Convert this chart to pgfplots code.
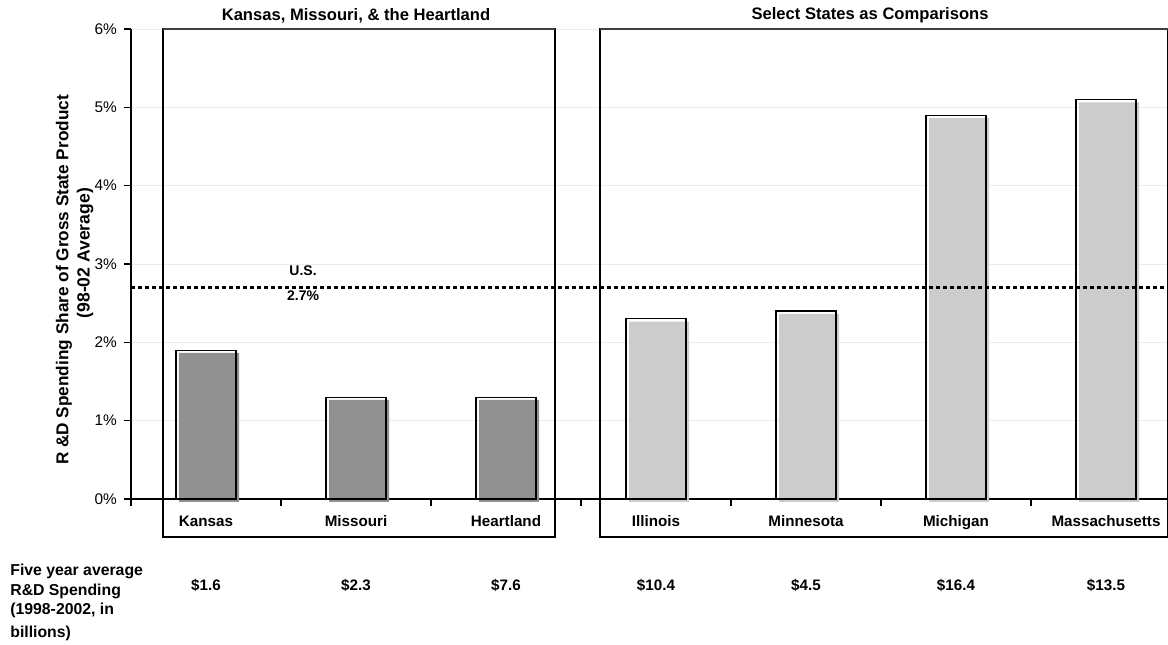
\documentclass[border=0pt]{standalone}
\usepackage{fontspec}
\setmainfont{Liberation Sans}
\usepackage{pgfplots}
\pgfplotsset{compat=1.18}
\definecolor{heart}{RGB}{145,145,145}
\definecolor{comp}{RGB}{204,204,204}

\begin{document}
\begin{tikzpicture}[font=\fontsize{7.5}{9}\selectfont]
\begin{axis}[
  name=ax, at={(0,0)}, anchor=south west,
  scale only axis, width=518.5pt, height=235pt,
  xmin=-0.5, xmax=6.4133, ymin=0, ymax=6,
  axis x line*=bottom, axis y line*=left,
  axis line style={black, line width=0.6pt},
  xtick={0,...,6},
  xticklabels={Kansas,Missouri,Heartland,Illinois,Minnesota,Michigan,Massachusetts},
  x tick label style={font=\fontsize{7.6}{9}\selectfont\bfseries, anchor=base, yshift=-10.5pt},
  major x tick style={draw=none},
  minor xtick={-0.5,0.5,...,5.5},
  minor x tick style={black, line width=0.6pt},
  minor tick length=3.5pt,
  tick align=outside,
  ytick={0,...,6},
  yticklabel={\pgfmathprintnumber{\tick}\%},
  y tick label style={font=\fontsize{7.7}{9}\selectfont},
  major y tick style={black, line width=0.6pt},
  major tick length=3.5pt,
  /pgf/number format/assume math mode=true,
  ymajorgrids, grid style={black!8},
  clip=false,
  bar width=30pt,
]
% shadow blocks, then the bar outlines on top
\addplot[ybar, bar shift=0pt, fill=heart, draw=none, xshift=1.5pt, yshift=-1.4pt]
  coordinates {(0,1.9) (1,1.3) (2,1.3)};
\addplot[ybar, bar shift=0pt, fill=comp, draw=none, xshift=1.5pt, yshift=-1.4pt]
  coordinates {(3,2.3) (4,2.4) (5,4.9) (6,5.1)};
\addplot[ybar, bar shift=0pt, draw=black, fill=none, line width=0.6pt]
  coordinates {(0,1.9) (1,1.3) (2,1.3) (3,2.3) (4,2.4) (5,4.9) (6,5.1)};

% U.S. average
\addplot[sharp plot, black, line width=1.8pt, dash pattern=on 2pt off 1.5pt]
  coordinates {(-0.5,2.7) (6.4133,2.7)};
\node[font=\fontsize{7}{8}\selectfont\bfseries] at (axis cs:0.647,2.92) {U.S.};
\node[font=\fontsize{7}{8}\selectfont\bfseries] at (axis cs:0.647,2.60) {2.7\%};

% group frames
\draw[black, line width=0.6pt] (axis cs:-0.287,-0.485) rectangle (axis cs:2.327,6);
\draw[black, line width=0.6pt] (axis cs:2.627,-0.485) rectangle (axis cs:6.4133,6);
\draw[black!75, line width=1.2pt] (axis cs:-0.287,6) -- (axis cs:2.327,6);
\draw[black!75, line width=1.2pt] (axis cs:2.627,6) -- (axis cs:6.4133,6);

% group titles
\node[font=\fontsize{8.3}{9}\selectfont\bfseries, yshift=6.8pt] at (axis cs:1.0,6) {Kansas, Missouri, \& the Heartland};
\node[font=\fontsize{8.3}{9}\selectfont\bfseries, yshift=6.8pt] at (axis cs:4.427,6) {Select States as Comparisons};

% five-year average R&D spending
\node[font=\fontsize{7.9}{9.7}\selectfont\bfseries, anchor=north west, align=left, inner sep=0pt]
  at (axis cs:-1.307,-0.83) {Five year average\\R\&D Spending\\(1998-2002, in\\[1.5pt]billions)};
\node[font=\fontsize{7.6}{9}\selectfont\bfseries] at (axis cs:0,-1.098) {\$1.6};
\node[font=\fontsize{7.6}{9}\selectfont\bfseries] at (axis cs:1,-1.098) {\$2.3};
\node[font=\fontsize{7.6}{9}\selectfont\bfseries] at (axis cs:2,-1.098) {\$7.6};
\node[font=\fontsize{7.6}{9}\selectfont\bfseries] at (axis cs:3,-1.098) {\$10.4};
\node[font=\fontsize{7.6}{9}\selectfont\bfseries] at (axis cs:4,-1.098) {\$4.5};
\node[font=\fontsize{7.6}{9}\selectfont\bfseries] at (axis cs:5,-1.098) {\$16.4};
\node[font=\fontsize{7.6}{9}\selectfont\bfseries] at (axis cs:6,-1.098) {\$13.5};
\end{axis}

% axis title, two lines
\node[font=\fontsize{8.6}{9}\selectfont\bfseries, rotate=90] at ([shift={(-33.5pt,0.466*235pt)}]ax.south west) {R \&D Spending Share of Gross State Product};
\node[font=\fontsize{8.8}{9}\selectfont\bfseries, rotate=90] at ([shift={(-23pt,0.523*235pt)}]ax.south west) {(98-02 Average)};

\pgfresetboundingbox
\path ([shift={(-65.5pt,-73pt)}]ax.south west) rectangle ([shift={(0pt,14.5pt)}]ax.north east);
\end{tikzpicture}
\end{document}
